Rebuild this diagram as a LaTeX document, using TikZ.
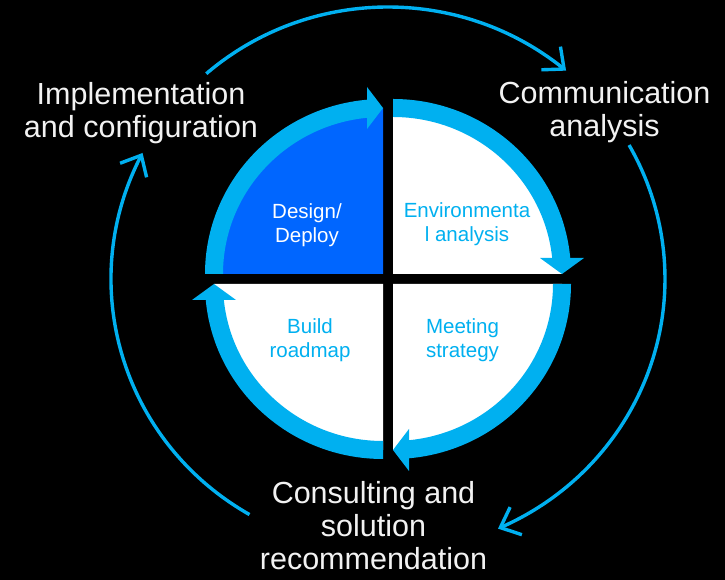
\documentclass[tikz,border=0pt]{standalone}
\usepackage{fontspec}
\setmainfont{Liberation Sans}
\usetikzlibrary{arrows.meta,bending}
\definecolor{cyanband}{HTML}{00B0F0}
\definecolor{deepblue}{HTML}{0066FF}
\definecolor{labelwhite}{HTML}{F2F2F2}
\begin{document}
\begin{tikzpicture}[x=1pt,y=1pt,
  band/.style={fill=cyanband},
  cyc/.style={draw=cyanband,line width=3.4pt,-{Straight Barb[length=17pt,width=30pt]}},
  bigtext/.style={text=labelwhite,font=\fontsize{30.5}{33}\selectfont,align=center,inner sep=0pt},
  smalltext/.style={font=\fontsize{20.5}{24}\selectfont,align=center,inner sep=0pt}]
\fill[black] (0,0) rectangle (725,580);
\useasboundingbox (0,0) rectangle (725,580);

% top-left quadrant
\begin{scope}[shift={(383,306)}]
\fill[deepblue] (0,0) -- (180:169 and 166) arc[start angle=180,end angle=90,x radius=169,y radius=166] -- cycle;
\fill[band] (180:178 and 175) arc[start angle=180,end angle=95,x radius=178,y radius=175] -- (95:160 and 157) arc[start angle=95,end angle=180,x radius=160,y radius=157] -- cycle;
\fill[band] (0,166) -- (-16,187) -- (-16,145) -- cycle;
\end{scope}
% top-right quadrant
\begin{scope}[shift={(393,306)}]
\fill[white] (0,0) -- (90:169 and 166) arc[start angle=90,end angle=0,x radius=169,y radius=166] -- cycle;
\fill[band] (90:178 and 175) arc[start angle=90,end angle=5,x radius=178,y radius=175] -- (5:160 and 157) arc[start angle=5,end angle=90,x radius=160,y radius=157] -- cycle;
\fill[band] (169,0) -- (147,16) -- (191,16) -- cycle;
\end{scope}
% bottom-right quadrant
\begin{scope}[shift={(393,296)}]
\fill[white] (0,0) -- (0:169 and 166) arc[start angle=0,end angle=-90,x radius=169,y radius=166] -- cycle;
\fill[band] (0:178 and 175) arc[start angle=0,end angle=-85,x radius=178,y radius=175] -- (-85:160 and 157) arc[start angle=-85,end angle=0,x radius=160,y radius=157] -- cycle;
\fill[band] (0,-166) -- (16,-145) -- (16,-187) -- cycle;
\end{scope}
% bottom-left quadrant
\begin{scope}[shift={(383,296)}]
\fill[white] (0,0) -- (-90:169 and 166) arc[start angle=-90,end angle=-180,x radius=169,y radius=166] -- cycle;
\fill[band] (-90:178 and 175) arc[start angle=-90,end angle=-175,x radius=178,y radius=175] -- (-175:160 and 157) arc[start angle=-175,end angle=-90,x radius=160,y radius=157] -- cycle;
\fill[band] (-169,0) -- (-191,-16) -- (-147,-16) -- cycle;
\end{scope}

% inner labels
\node[smalltext,text=white] (design) at (307,354.5) {Design/\\Deploy};
\node[smalltext,text=cyanband] (env) at (467,356) {Environmenta\\l analysis};
\node[smalltext,text=cyanband] (build) at (310,240) {Build\\roadmap};
\node[smalltext,text=cyanband] (meet) at (462.5,240) {Meeting\\strategy};

% outer labels
\node[bigtext] (impl) at (141,467) {Implementation\\and configuration};
\node[bigtext] (comm) at (604.5,467.5) {Communication\\analysis};
\node[bigtext] (cons) at (373.5,54) {Consulting and\\solution\\recommendation};

% outer cycle arcs
\coordinate (O) at (388,301);
\path (O) ++(131:277 and 272) coordinate (s1);
\path (O) ++(29.5:277 and 272) coordinate (s2);
\path (O) ++(240:277 and 272) coordinate (s3);
\draw[cyc] (s1) arc[start angle=131,end angle=50,x radius=277,y radius=272];
\draw[cyc] (s2) arc[start angle=29.5,end angle=-66.6,x radius=277,y radius=272];
\draw[cyc] (s3) arc[start angle=240,end angle=152.4,x radius=277,y radius=272];
\end{tikzpicture}
\end{document}
